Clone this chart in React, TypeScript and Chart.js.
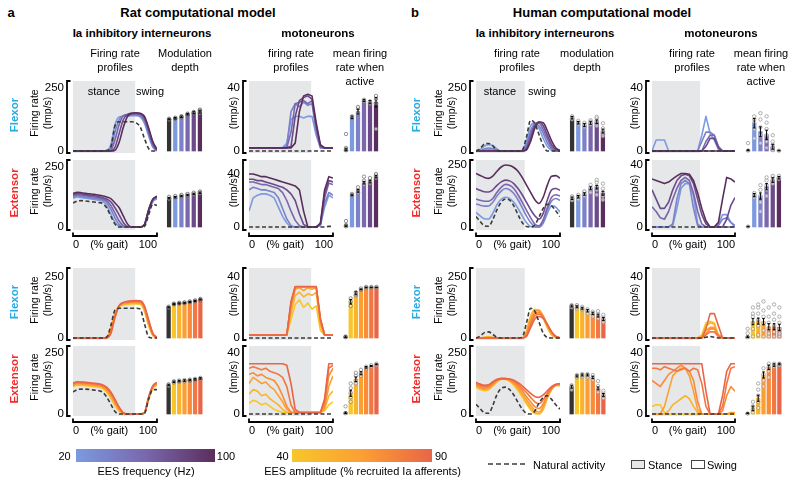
import React, { useEffect, useRef } from 'react';
import { Chart, registerables } from 'chart.js';

Chart.register(...registerables);

const FONT = "'Liberation Sans', Arial, Helvetica, sans-serif";
Chart.defaults.font.family = FONT;
Chart.defaults.font.size = 11;
Chart.defaults.color = '#000';

// ---------------- data ----------------
const GAIT_PCT = [0, 5, 10, 15, 20, 25, 30, 35, 40, 45, 50, 55, 60, 65, 70, 75, 80, 85, 90, 95, 100];
const X_TICKS = [0, 43, 100];
const X_TICK_LABELS = ['0', '(% gait)', '100'];
const FREQ_LEVELS = [20, 40, 60, 80, 100];
const AMP_LEVELS = [40, 50, 60, 70, 80, 90];
const FREQ_COLORS = ['#7b9ae0', '#7c81ca', '#7a67ad', '#6a4a8a', '#5a2e5c'];
const AMP_COLORS = ['#f7c62a', '#fcb32c', '#fc9f33', '#f98b3a', '#f27742', '#e96548'];
const NAT_COLOR = '#3a3a3a';
const NATURAL_BAR_COLOR = '#333333';
const STANCE_END_RAT = 74;
const STANCE_END_HUMAN = 58;
const ZEROS = [0, 0, 0, 0, 0, 0, 0, 0, 0, 0, 0, 0, 0, 0, 0, 0, 0, 0, 0, 0, 0];

// Rat, Ia inhibitory interneurons
const ratIaFlexNat = [0, 0, 0, 0, 0, 0, 0, 0, 2, 15, 100, 116, 116, 116, 116, 112, 95, 50, 10, 0, 0];
const ratIaFlexFreq = [
  [0, 0, 0, 0, 0, 0, 0, 0, 2, 25, 105, 135, 138, 138, 140, 140, 135, 110, 60, 15, 0],
  [0, 0, 0, 0, 0, 0, 0, 0, 1, 10, 75, 125, 140, 142, 143, 143, 140, 118, 70, 20, 2],
  [0, 0, 0, 0, 0, 0, 0, 0, 0, 3, 45, 105, 140, 145, 146, 147, 145, 125, 78, 25, 3],
  [0, 0, 0, 0, 0, 0, 0, 0, 0, 0, 15, 70, 125, 145, 150, 150, 148, 132, 85, 32, 5],
  [0, 0, 0, 0, 0, 0, 0, 0, 0, 0, 3, 35, 95, 138, 150, 152, 150, 138, 92, 38, 6],
];
const ratIaExtNat = [100, 108, 110, 108, 106, 104, 102, 98, 80, 45, 12, 0, 0, 0, 0, 0, 0, 2, 50, 95, 90];
const ratIaExtFreq = [
  [120, 125, 123, 120, 118, 115, 112, 108, 90, 55, 20, 3, 0, 0, 0, 0, 0, 8, 60, 105, 118],
  [125, 130, 128, 125, 122, 120, 117, 113, 102, 75, 38, 10, 0, 0, 0, 0, 0, 8, 65, 110, 122],
  [130, 135, 133, 130, 127, 125, 122, 118, 110, 90, 58, 25, 5, 0, 0, 0, 0, 9, 68, 113, 125],
  [135, 140, 138, 135, 132, 130, 127, 123, 117, 105, 80, 50, 18, 2, 0, 0, 0, 10, 70, 115, 127],
  [140, 145, 143, 140, 138, 136, 133, 130, 125, 118, 100, 80, 45, 12, 0, 0, 0, 10, 72, 116, 128],
];
const ratIaFlexAmpNat = [0, 0, 0, 0, 0, 0, 0, 0, 3, 50, 115, 122, 122, 122, 122, 122, 118, 60, 5, 0, 0];
const ratIaFlexAmp = [
  [0, 0, 0, 0, 0, 0, 0, 0, 3, 40, 100, 128, 135, 138, 140, 140, 138, 110, 50, 10, 0],
  [0, 0, 0, 0, 0, 0, 0, 0, 2, 35, 98, 130, 138, 141, 143, 143, 141, 115, 55, 12, 0],
  [0, 0, 0, 0, 0, 0, 0, 0, 2, 30, 95, 132, 141, 144, 146, 146, 144, 120, 60, 14, 1],
  [0, 0, 0, 0, 0, 0, 0, 0, 1, 26, 92, 133, 143, 146, 148, 148, 147, 124, 65, 16, 1],
  [0, 0, 0, 0, 0, 0, 0, 0, 1, 22, 88, 133, 145, 148, 150, 151, 150, 128, 70, 18, 1],
  [0, 0, 0, 0, 0, 0, 0, 0, 1, 18, 84, 133, 146, 150, 152, 153, 152, 132, 75, 20, 2],
];
const ratIaExtAmpNat = [90, 100, 102, 102, 100, 98, 96, 90, 70, 40, 10, 0, 0, 0, 0, 0, 0, 2, 60, 100, 100];
const ratIaExtAmp = [
  [112, 118, 117, 116, 114, 112, 110, 105, 90, 65, 35, 10, 0, 0, 0, 0, 0, 3, 60, 105, 118],
  [115, 121, 120, 119, 117, 115, 113, 108, 94, 70, 40, 14, 1, 0, 0, 0, 0, 4, 62, 108, 121],
  [118, 124, 123, 122, 120, 118, 116, 111, 98, 76, 46, 18, 2, 0, 0, 0, 0, 4, 64, 110, 124],
  [121, 127, 126, 125, 123, 121, 119, 114, 102, 82, 52, 22, 3, 0, 0, 0, 0, 5, 66, 112, 126],
  [124, 130, 129, 128, 126, 124, 122, 117, 106, 86, 56, 25, 4, 0, 0, 0, 0, 5, 68, 114, 128],
  [127, 132, 131, 130, 128, 126, 124, 120, 110, 90, 60, 28, 5, 0, 0, 0, 0, 5, 70, 115, 130],
];

// Rat, motoneurons
const ratMnFlexFreq = [
  [2, 2, 2, 2, 2, 2, 2, 2, 2, 5, 20, 22, 22, 21, 22, 22, 10, 2, 2, 2, 2],
  [2, 2, 2, 2, 2, 2, 2, 2, 2, 3, 25, 30, 28, 31, 29, 30, 12, 2, 2, 2, 2],
  [2, 2, 2, 2, 2, 2, 2, 2, 2, 2, 12, 30, 31, 32, 30, 32, 15, 3, 2, 2, 2],
  [2, 2, 2, 2, 2, 2, 2, 2, 2, 2, 3, 22, 32, 34, 35, 33, 16, 3, 2, 2, 2],
  [2, 2, 2, 2, 2, 2, 2, 2, 2, 2, 2, 5, 25, 35, 36, 35, 18, 4, 2, 2, 2],
];
const ratMnExtNat = [0, 0, 0, 0, 0, 0, 0, 0, 0, 0, 0, 0, 0, 0, 0, 0, 0, 0, 0, 0.5, 0.5];
const ratMnExtFreq = [
  [12, 22, 24, 25, 25, 24, 22, 15, 8, 3, 0, 0, 0, 0, 0, 0, 0, 1, 15, 24, 22],
  [28, 30, 29, 28, 28, 27, 26, 22, 14, 6, 1, 0, 0, 0, 0, 0, 0, 2, 18, 26, 24],
  [34, 34, 33, 32, 32, 31, 30, 29, 26, 20, 12, 5, 1, 0, 0, 0, 0, 2, 22, 33, 32],
  [36, 36, 35, 35, 34, 33, 32, 31, 30, 28, 25, 20, 10, 2, 0, 0, 0, 2, 25, 35, 34],
  [40, 40, 39, 38, 38, 37, 36, 35, 34, 33, 32, 31, 28, 12, 0, 0, 0, 3, 28, 38, 37],
];
const ratMnFlexAmp = [
  [2, 2, 2, 2, 2, 2, 2, 2, 2, 2, 12, 22, 25, 20, 23, 19, 21, 5, 2, 2, 2],
  [2, 2, 2, 2, 2, 2, 2, 2, 2, 2, 16, 28, 30, 27, 29, 28, 30, 8, 2, 2, 2],
  [2, 2, 2, 2, 2, 2, 2, 2, 2, 2, 20, 32, 33, 31, 33, 32, 33, 10, 2, 2, 2],
  [2, 2, 2, 2, 2, 2, 2, 2, 2, 2, 22, 33.5, 33.5, 33.5, 33.5, 33.5, 33.5, 12, 2, 2, 2],
  [2, 2, 2, 2, 2, 2, 2, 2, 2, 2, 23, 33.6, 33.6, 33.6, 33.6, 33.6, 33.6, 12, 2, 2, 2],
  [2, 2, 2, 2, 2, 2, 2, 2, 2, 2, 24, 33.8, 33.8, 33.8, 33.8, 33.8, 33.8, 13, 2, 2, 2],
];
const ratMnExtAmp = [
  [7, 9, 8, 6, 7, 5, 3, 2, 1, 1, 1, 1, 1, 1, 1, 1, 1, 1, 2, 6, 8],
  [13, 16, 15, 12, 13, 10, 8, 6, 3, 1, 1, 1, 1, 1, 1, 1, 1, 1, 3, 12, 15],
  [20, 24, 22, 20, 21, 18, 16, 12, 8, 3, 1, 1, 1, 1, 1, 1, 1, 1, 4, 18, 25],
  [26, 27, 25, 26, 24, 23, 22, 18, 12, 5, 1, 1, 1, 1, 1, 1, 1, 1, 6, 25, 30],
  [30, 31, 30, 29, 30, 28, 27, 26, 24, 18, 6, 1, 1, 1, 1, 1, 1, 1, 8, 30, 32],
  [33, 33, 33, 33, 33, 33, 33, 33, 33, 32, 20, 3, 1, 1, 1, 1, 1, 1, 10, 33, 33],
];

// Human, Ia inhibitory interneurons
const humIaFlexNat = [0, 10, 28, 30, 20, 3, 0, 0, 0, 0, 0, 3, 55, 122, 110, 65, 22, 0, 0, 0, 0];
const humIaFlexFreq = [
  [0, 5, 20, 25, 22, 8, 0, 0, 0, 0, 0, 2, 40, 100, 112, 90, 50, 18, 3, 0, 0],
  [0, 0, 8, 12, 10, 3, 0, 0, 0, 0, 0, 1, 25, 80, 108, 100, 70, 32, 8, 1, 0],
  [0, 0, 2, 4, 3, 1, 0, 0, 0, 0, 0, 0, 15, 65, 105, 110, 85, 48, 15, 3, 0],
  [0, 0, 0, 0, 0, 0, 0, 0, 0, 0, 0, 0, 8, 50, 100, 115, 100, 62, 25, 6, 1],
  [0, 0, 0, 0, 0, 0, 0, 0, 0, 0, 0, 0, 4, 38, 90, 115, 112, 80, 40, 12, 2],
];
const humIaExtNat = [42, 22, 5, 3, 30, 70, 100, 113, 108, 85, 50, 18, 2, 0, 8, 40, 75, 92, 85, 65, 42];
const humIaExtFreq = [
  [59, 45, 33, 32, 55, 90, 112, 120, 115, 100, 75, 45, 18, 2, 0, 0, 15, 55, 85, 80, 60],
  [93, 88, 84, 85, 100, 125, 145, 155, 150, 135, 110, 78, 45, 18, 2, 0, 20, 70, 105, 115, 107],
  [113, 108, 104, 104, 115, 140, 160, 172, 168, 155, 130, 100, 68, 38, 12, 5, 30, 80, 120, 130, 125],
  [155, 148, 142, 141, 150, 168, 182, 189, 186, 175, 155, 130, 100, 70, 45, 32, 55, 110, 150, 155, 148],
  [216, 208, 200, 196, 205, 225, 242, 250, 248, 240, 225, 200, 170, 140, 110, 95, 120, 170, 205, 207, 197],
];
const humIaFlexAmpNat = [0, 8, 22, 25, 15, 2, 0, 0, 0, 0, 0, 3, 60, 122, 110, 65, 20, 2, 0, 0, 0];
const humIaFlexAmp = [
  [0, 0, 3, 5, 3, 0, 0, 0, 0, 0, 0, 0, 30, 90, 118, 112, 80, 40, 12, 2, 0],
  [0, 0, 2, 4, 2, 0, 0, 0, 0, 0, 0, 0, 25, 85, 115, 115, 88, 48, 15, 3, 0],
  [0, 0, 1, 2, 1, 0, 0, 0, 0, 0, 0, 0, 20, 75, 108, 112, 90, 52, 18, 4, 0],
  [0, 0, 1, 1, 1, 0, 0, 0, 0, 0, 0, 0, 15, 65, 100, 105, 88, 55, 22, 5, 0],
  [0, 0, 0, 1, 0, 0, 0, 0, 0, 0, 0, 0, 10, 55, 90, 98, 85, 55, 24, 6, 0],
  [0, 0, 0, 0, 0, 0, 0, 0, 0, 0, 0, 0, 6, 42, 78, 88, 80, 55, 26, 8, 1],
];
const humIaExtAmpNat = [40, 22, 5, 3, 35, 80, 105, 110, 100, 78, 48, 20, 3, 0, 12, 45, 68, 75, 60, 38, 20];
const humIaExtAmp = [
  [110, 100, 96, 100, 115, 132, 143, 142, 134, 118, 96, 70, 42, 18, 2, 0, 18, 65, 100, 118, 115],
  [112, 104, 98, 102, 117, 134, 144, 143, 136, 122, 102, 78, 50, 25, 6, 2, 22, 68, 100, 117, 118],
  [116, 108, 102, 106, 120, 136, 145, 144, 138, 126, 108, 85, 60, 36, 15, 8, 30, 72, 103, 118, 120],
  [120, 112, 106, 110, 124, 138, 145, 145, 140, 130, 115, 95, 72, 50, 30, 22, 42, 78, 105, 118, 122],
  [125, 118, 112, 115, 128, 140, 145, 145, 142, 135, 122, 105, 88, 68, 50, 42, 58, 85, 108, 120, 124],
  [130, 123, 118, 120, 132, 142, 145, 145, 143, 138, 128, 115, 100, 85, 72, 68, 78, 95, 112, 122, 125],
];

// Human, motoneurons
const humMnFlexFreq = [
  [0, 7, 7, 7, 0, 0, 0, 0, 0, 0, 0, 0, 10, 22, 11, 7, 1, 0, 0, 0, 0],
  [0, 0, 0, 0, 0, 0, 0, 0, 0, 0, 0, 0, 6, 12, 12, 10, 2, 0, 0, 0, 0],
  [0, 0, 0, 0, 0, 0, 0, 0, 0, 0, 0, 0, 0, 6, 10, 10, 3, 0, 0, 0, 0],
  [0, 0, 0, 0, 0, 0, 0, 0, 0, 0, 0, 0, 0, 3, 8, 8, 2, 0, 0, 0, 0],
  [0, 0, 0, 0, 0, 0, 0, 0, 0, 0, 0, 0, 0, 0, 0, 0, 0, 0, 0, 0, 0],
];
const humMnExtFreq = [
  [0, 0, 0, 0, 0, 1, 12, 25, 28, 28, 20, 2, 0, 0, 0, 0, 2, 8, 8, 3, 0],
  [0, 0, 0, 0, 0, 2, 18, 28, 30, 28, 12, 1, 0, 0, 0, 0, 1, 5, 6, 3, 1],
  [13, 10, 6, 5, 10, 18, 25, 30, 32, 30, 22, 10, 2, 0, 0, 0, 0, 0, 0, 0, 0],
  [24, 18, 12, 12, 16, 24, 30, 33, 34, 33, 28, 18, 8, 2, 0, 0, 0, 0, 5, 14, 19],
  [31, 30, 29, 28, 29, 31, 33, 34.5, 34.5, 34, 30, 22, 12, 4, 0, 0, 3, 18, 32, 31, 29],
];
const humMnFlexAmpNat = [0, 0, 0, 0, 0, 0, 0, 0, 0, 0, 0, 0, 0, 0.5, 1, 0.5, 0, 0, 0, 0, 0];
const humMnFlexAmp = [
  [0, 0, 0, 0, 0, 0, 0, 0, 0, 0, 0, 0, 2, 10, 11, 10, 2, 0, 0, 0, 0],
  [0, 0, 0, 0, 0, 0, 0, 0, 0, 0, 0, 0, 1, 8, 10, 9, 1, 0, 0, 0, 0],
  [0, 0, 0, 0, 0, 0, 0, 0, 0, 0, 0, 0, 0, 5, 7, 7, 2, 0, 0, 0, 0],
  [0, 0, 0, 0, 0, 0, 0, 0, 0, 0, 0, 0, 0, 3, 6, 6, 2, 0, 0, 0, 0],
  [0, 0, 0, 0, 0, 0, 0, 0, 0, 0, 0, 0, 0, 2, 4, 4, 1, 0, 0, 0, 0],
  [0, 0, 0, 0, 0, 0, 0, 0, 0, 0, 0, 0, 0, 6, 16, 16, 8, 0, 0, 0, 0],
];
const humMnExtAmp = [
  [5, 6, 6, 1, 0, 0, 0, 0, 0, 0, 0, 0, 0, 0, 0, 0, 0, 0, 0, 0, 0],
  [0, 0, 0, 0, 2, 6, 8, 10, 12, 10, 5, 1, 0, 0, 0, 0, 0, 0, 0, 0, 0],
  [0, 0, 0, 5, 15, 25, 28, 30, 30, 25, 15, 3, 0, 0, 0, 0, 0, 0, 0, 1, 1],
  [22, 20, 18, 22, 26, 28, 30, 32, 30, 28, 22, 8, 0, 0, 0, 0, 0, 2, 12, 18, 15],
  [30, 30, 29, 31, 30, 29, 28, 29, 30, 28, 30, 29, 20, 5, 0, 0, 0, 5, 20, 30, 31],
  [33, 33, 33, 33, 33, 33, 33, 33, 33, 33, 33, 33, 33, 15, 0, 0, 0, 12, 28, 33, 33],
];

// Bar summaries (natural first, then EES levels)
const ratIaFlexFreqBar = [126, 130, 136, 146, 152, 156];
const ratIaFlexFreqErr = [2, 3, 3, 3, 4, 6];
const ratIaFlexFreqDots = [[124, 128], [128, 132], [134, 138], [144, 148], [150, 155], [160, 164, 150]];
const ratIaExtFreqBar = [120, 124, 129, 133, 138, 143];
const ratIaExtFreqErr = [3, 3, 3, 3, 3, 3];
const ratIaExtFreqDots = [[118, 123, 126], [122, 127, 129], [127, 132, 134], [131, 136, 138], [136, 141, 143], [141, 146, 148]];
const ratIaFlexAmpBar = [126, 139, 142, 144, 148, 152, 158];
const ratIaFlexAmpErr = [2, 2, 2, 2, 2, 2, 2];
const ratIaFlexAmpDots = [[124, 128], [138, 141], [141, 144], [143, 146], [147, 150], [151, 154], [156, 160]];
const ratIaExtAmpBar = [119, 132, 135, 137, 139, 142, 146];
const ratIaExtAmpErr = [3, 3, 3, 3, 3, 3, 3];
const ratIaExtAmpDots = [[116, 122], [129, 134], [132, 137], [134, 139], [136, 141], [139, 144], [143, 148]];

const ratMnFlexFreqBar = [1, 21.4, 25, 32, 31, 31];
const ratMnFlexFreqErr = [0.8, 0.8, 1.5, 0.6, 1, 3];
const ratMnFlexFreqDots = [[0.5, 2, 10.8], [21, 22], [24, 27, 28], [31.5, 32.5], [30, 31.5], [14, 30, 33, 35]];
const ratMnExtFreqBar = [1, 24.2, 27.2, 33.4, 34.2, 38];
const ratMnExtFreqDots = [[0.5, 1.5, 4.5], [24, 25], [26, 28, 30], [32, 35, 38], [33, 35, 37], [37, 39, 40]];
const ratMnExtFreqErr = [0.5, 0.6, 1, 1, 1, 1];
const ratMnFlexAmpBar = [0.8, 23.8, 29.3, 31.9, 33.2, 33.2, 33.2];
const ratMnFlexAmpErr = [0.5, 1.5, 1, 0.3, 0.2, 0.2, 0.2];
const ratMnFlexAmpDots = [[0.5, 1], [21, 24, 26], [28, 30], [31.5, 32.5], [33, 33.5], [33, 33.5], [33, 33.5]];
const ratMnExtAmpBar = [0.8, 13.6, 22.8, 26.7, 30.6, 31.5, 32.6];
const ratMnExtAmpErr = [0.5, 2, 1.5, 1, 0.5, 0.3, 0.3];
const ratMnExtAmpDots = [[0.5, 5], [8, 11, 14, 17, 20], [20, 22, 25, 27], [25, 27, 29], [30, 31], [31, 32], [32, 33]];

const humIaFlexFreqBar = [132, 112, 103, 112, 116, 79];
const humIaFlexFreqErr = [5, 5, 6, 6, 7, 8];
const humIaFlexFreqDots = [[126, 130, 135, 138], [105, 110, 115, 120], [95, 100, 108, 112], [105, 110, 118, 122], [100, 112, 120, 130, 135], [60, 70, 80, 90, 110]];
const humIaExtFreqBar = [116, 122, 133, 156, 160, 136];
const humIaExtFreqErr = [5, 5, 5, 6, 7, 8];
const humIaExtFreqDots = [[108, 114, 120, 124], [112, 120, 126, 130], [125, 132, 140, 144], [140, 150, 160, 170], [130, 150, 165, 180, 190], [110, 125, 140, 155, 175]];
const humIaFlexAmpBar = [131, 128, 122, 112, 101, 92, 78];
const humIaFlexAmpErr = [4, 4, 4, 5, 5, 6, 6];
const humIaFlexAmpDots = [[126, 132, 135], [120, 126, 132, 135], [115, 120, 128], [100, 110, 118], [88, 98, 108], [80, 90, 100, 110], [65, 75, 85, 95]];
const humIaExtAmpBar = [112, 156, 160, 160, 150, 105, 78];
const humIaExtAmpErr = [6, 4, 4, 4, 5, 6, 6];
const humIaExtAmpDots = [[100, 110, 118], [150, 155, 160], [152, 158, 164], [150, 158, 164], [140, 150, 160], [90, 100, 115, 135], [65, 75, 85, 95]];

const humMnFlexFreqBar = [0.5, 17.6, 12.3, 10.2, 2.7, 0.3];
const humMnFlexFreqErr = [0.3, 3, 3, 3, 1.5, 0.2];
const humMnFlexFreqDots = [[0.3, 5], [8, 14, 18, 20, 22], [5, 10, 15, 20, 24], [2, 6, 10, 14, 18, 22], [0.5, 2, 4, 6, 10], [0.2]];
const humMnExtFreqBar = [0.3, 20.6, 20, 26, 30.3, 31.8];
const humMnExtFreqErr = [0.2, 1, 2, 2, 1.5, 0.8];
const humMnExtFreqDots = [[0.3], [19, 20, 21, 22], [10, 16, 20, 24, 27], [20, 24, 27, 30, 32], [28, 30, 32, 33], [31, 32, 33]];
const humMnFlexAmpBar = [0.8, 10.7, 11.1, 10.7, 7.4, 7.4, 7];
const humMnFlexAmpErr = [0.5, 2, 2, 2, 2, 2, 2];
const humMnFlexAmpDots = [[0.5, 3, 6], [1, 6, 10, 14, 16, 20], [2, 8, 12, 16, 20, 22], [1, 5, 10, 14, 18, 24], [1, 3, 6, 10, 14, 20], [1, 4, 8, 12, 16, 22], [1, 3, 6, 10, 14, 20]];
const humMnExtAmpBar = [0.5, 3.7, 10.3, 25.6, 30.6, 32.1, 32.8];
const humMnExtAmpErr = [0.3, 1.5, 2, 2, 1.5, 0.8, 0.5];
const humMnExtAmpDots = [[0.3], [1, 3, 5, 8], [4, 8, 12, 16, 20], [18, 22, 26, 30], [24, 28, 31, 33], [31, 32, 33], [32, 33]];

// ---------------- layout ----------------
const COLS = [
  { l: 73, r: 157, bl: 166, br: 203 },
  { l: 249, r: 333, bl: 343, br: 379 },
  { l: 476, r: 560, bl: 569, br: 606 },
  { l: 652, r: 735, bl: 745, br: 782 },
];
const ROWS = [
  { t: 81, z: 151, b: 153 },
  { t: 160, z: 227, b: 230 },
  { t: 268, z: 338, b: 340 },
  { t: 346, z: 414, b: 416 },
];

const PANELS = [
  { col: 0, row: 0, tick: 250, tickY: 88, nat: ratIaFlexNat, curves: ratIaFlexFreq, colors: FREQ_COLORS, stance: STANCE_END_RAT, smooth: true, bars: ratIaFlexFreqBar, errs: ratIaFlexFreqErr, dots: ratIaFlexFreqDots, dotColor: '#555' },
  { col: 0, row: 1, tick: 250, tickY: 167, nat: ratIaExtNat, curves: ratIaExtFreq, colors: FREQ_COLORS, stance: STANCE_END_RAT, smooth: true, bars: ratIaExtFreqBar, errs: ratIaExtFreqErr, dots: ratIaExtFreqDots, dotColor: '#777' },
  { col: 0, row: 2, tick: 250, tickY: 277, nat: ratIaFlexAmpNat, curves: ratIaFlexAmp, colors: AMP_COLORS, stance: STANCE_END_RAT, smooth: true, bars: ratIaFlexAmpBar, errs: ratIaFlexAmpErr, dots: ratIaFlexAmpDots, dotColor: '#555' },
  { col: 0, row: 3, tick: 250, tickY: 353, nat: ratIaExtAmpNat, curves: ratIaExtAmp, colors: AMP_COLORS, stance: STANCE_END_RAT, smooth: true, bars: ratIaExtAmpBar, errs: ratIaExtAmpErr, dots: ratIaExtAmpDots, dotColor: '#777' },
  { col: 1, row: 0, tick: 40, tickY: 88, nat: ZEROS, curves: ratMnFlexFreq, colors: FREQ_COLORS, stance: STANCE_END_RAT, smooth: false, bars: ratMnFlexFreqBar, errs: ratMnFlexFreqErr, dots: ratMnFlexFreqDots, dotColor: '#777' },
  { col: 1, row: 1, tick: 40, tickY: 174, nat: ratMnExtNat, curves: ratMnExtFreq, colors: FREQ_COLORS, stance: STANCE_END_RAT, smooth: false, bars: ratMnExtFreqBar, errs: ratMnExtFreqErr, dots: ratMnExtFreqDots, dotColor: '#777' },
  { col: 1, row: 2, tick: 40, tickY: 277, nat: ZEROS, curves: ratMnFlexAmp, colors: AMP_COLORS, stance: STANCE_END_RAT, smooth: false, bars: ratMnFlexAmpBar, errs: ratMnFlexAmpErr, dots: ratMnFlexAmpDots, dotColor: '#777' },
  { col: 1, row: 3, tick: 40, tickY: 353, nat: ZEROS, curves: ratMnExtAmp, colors: AMP_COLORS, stance: STANCE_END_RAT, smooth: false, bars: ratMnExtAmpBar, errs: ratMnExtAmpErr, dots: ratMnExtAmpDots, dotColor: '#888' },
  { col: 2, row: 0, tick: 250, tickY: 88, nat: humIaFlexNat, curves: humIaFlexFreq, colors: FREQ_COLORS, stance: STANCE_END_HUMAN, smooth: true, bars: humIaFlexFreqBar, errs: humIaFlexFreqErr, dots: humIaFlexFreqDots, dotColor: '#999' },
  { col: 2, row: 1, tick: 250, tickY: 165, nat: humIaExtNat, curves: humIaExtFreq, colors: FREQ_COLORS, stance: STANCE_END_HUMAN, smooth: true, bars: humIaExtFreqBar, errs: humIaExtFreqErr, dots: humIaExtFreqDots, dotColor: '#999' },
  { col: 2, row: 2, tick: 250, tickY: 277, nat: humIaFlexAmpNat, curves: humIaFlexAmp, colors: AMP_COLORS, stance: STANCE_END_HUMAN, smooth: true, bars: humIaFlexAmpBar, errs: humIaFlexAmpErr, dots: humIaFlexAmpDots, dotColor: '#999' },
  { col: 2, row: 3, tick: 250, tickY: 353, nat: humIaExtAmpNat, curves: humIaExtAmp, colors: AMP_COLORS, stance: STANCE_END_HUMAN, smooth: true, bars: humIaExtAmpBar, errs: humIaExtAmpErr, dots: humIaExtAmpDots, dotColor: '#999' },
  { col: 3, row: 0, tick: 40, tickY: 88, nat: ZEROS, curves: humMnFlexFreq, colors: FREQ_COLORS, stance: STANCE_END_HUMAN, smooth: false, bars: humMnFlexFreqBar, errs: humMnFlexFreqErr, dots: humMnFlexFreqDots, dotColor: '#999' },
  { col: 3, row: 1, tick: 40, tickY: 165, nat: ZEROS, curves: humMnExtFreq, colors: FREQ_COLORS, stance: STANCE_END_HUMAN, smooth: false, bars: humMnExtFreqBar, errs: humMnExtFreqErr, dots: humMnExtFreqDots, dotColor: '#999' },
  { col: 3, row: 2, tick: 40, tickY: 277, nat: humMnFlexAmpNat, curves: humMnFlexAmp, colors: AMP_COLORS, stance: STANCE_END_HUMAN, smooth: false, bars: humMnFlexAmpBar, errs: humMnFlexAmpErr, dots: humMnFlexAmpDots, dotColor: '#999' },
  { col: 3, row: 3, tick: 40, tickY: 353, nat: ZEROS, curves: humMnExtAmp, colors: AMP_COLORS, stance: STANCE_END_HUMAN, smooth: false, bars: humMnExtAmpBar, errs: humMnExtAmpErr, dots: humMnExtAmpDots, dotColor: '#999' },
];

// ---------------- helpers ----------------
function yRange(p) {
  const R = ROWS[p.row];
  const ppu = (R.z - p.tickY) / p.tick;
  return { min: -(R.b - R.z) / ppu, max: p.tick + (p.tickY - R.t) / ppu };
}

const PAD_T = 20;
const PAD_B = 20;
const PAD_R = 12;
const Y_W = 40;
const X_H = 30;

function stancePlugin(end) {
  return {
    id: 'stance',
    beforeDatasetsDraw(chart) {
      const { ctx, chartArea: a, scales } = chart;
      const x0 = scales.x.getPixelForValue(0);
      const x1 = scales.x.getPixelForValue(end);
      ctx.save();
      ctx.fillStyle = '#e6e7e8';
      ctx.fillRect(x0, a.top, x1 - x0, a.bottom - a.top);
      ctx.restore();
    },
  };
}

function bracketPlugin(showX) {
  return {
    id: 'brackets',
    afterDraw(chart) {
      const { ctx, chartArea: a, scales } = chart;
      ctx.save();
      ctx.strokeStyle = '#000';
      ctx.lineWidth = 1.8;
      const bx = a.left - 6;
      ctx.beginPath();
      ctx.moveTo(bx + 3.5, a.top);
      ctx.lineTo(bx, a.top);
      ctx.lineTo(bx, a.bottom);
      ctx.lineTo(bx + 3.5, a.bottom);
      ctx.stroke();
      if (showX) {
        const by = a.bottom + 6;
        const x0 = scales.x.getPixelForValue(0);
        const x1 = scales.x.getPixelForValue(100);
        ctx.beginPath();
        ctx.moveTo(x0, by - 3.5);
        ctx.lineTo(x0, by);
        ctx.lineTo(x1, by);
        ctx.lineTo(x1, by - 3.5);
        ctx.stroke();
      }
      ctx.restore();
    },
  };
}

function errPlugin(vals, errs) {
  return {
    id: 'errbars',
    afterDatasetsDraw(chart) {
      const { ctx, scales } = chart;
      ctx.save();
      ctx.strokeStyle = '#000';
      ctx.lineWidth = 1;
      vals.forEach((v, i) => {
        const e = errs[i];
        const px = scales.x.getPixelForValue(i);
        const y1 = scales.y.getPixelForValue(Math.max(v - e, 0));
        const y2 = scales.y.getPixelForValue(v + e);
        ctx.beginPath();
        ctx.moveTo(px, y1);
        ctx.lineTo(px, y2);
        ctx.moveTo(px - 1.3, y2);
        ctx.lineTo(px + 1.3, y2);
        ctx.moveTo(px - 1.3, y1);
        ctx.lineTo(px + 1.3, y1);
        ctx.stroke();
      });
      ctx.restore();
    },
  };
}

function toPts(arr) {
  return GAIT_PCT.map((x, i) => ({ x, y: arr[i] }));
}

function lineBox(p) {
  const R = ROWS[p.row], C = COLS[p.col];
  const showX = p.row === 1 || p.row === 3;
  return {
    x: C.l - Y_W,
    y: R.t - PAD_T,
    w: C.r - C.l + Y_W + PAD_R,
    h: R.b - R.t + PAD_T + (showX ? X_H : PAD_B),
  };
}

function makeLineConfig(p) {
  const showX = p.row === 1 || p.row === 3;
  const { min, max } = yRange(p);
  const common = {
    pointRadius: 0,
    fill: false,
    borderWidth: 1.6,
    tension: p.smooth ? 0.4 : 0,
    cubicInterpolationMode: p.smooth ? 'monotone' : 'default',
    borderJoinStyle: 'round',
  };
  const datasets = [
    { ...common, data: toPts(p.nat), borderColor: NAT_COLOR, borderDash: [4, 2.5], borderWidth: 1.6 },
  ];
  for (let i = p.curves.length - 1; i >= 0; i--) {
    datasets.push({ ...common, data: toPts(p.curves[i]), borderColor: p.colors[i] });
  }
  return {
    type: 'line',
    data: { datasets },
    options: {
      animation: false,
      responsive: false,
      events: [],
      layout: { padding: { left: 0, top: PAD_T, right: PAD_R, bottom: showX ? 0 : PAD_B } },
      plugins: { legend: { display: false }, tooltip: { enabled: false } },
      scales: {
        x: {
          type: 'linear',
          min: 0,
          max: 100,
          display: showX,
          grid: { display: false, drawTicks: false },
          border: { display: false },
          afterBuildTicks: (s) => { s.ticks = X_TICKS.map((v) => ({ value: v })); },
          afterFit: (s) => { if (showX) s.height = X_H; },
          ticks: {
            align: 'inner',
            padding: 8.5,
            maxRotation: 0,
            autoSkip: false,
            font: { size: 11, family: FONT },
            color: '#000',
            callback: (v) => X_TICK_LABELS[X_TICKS.indexOf(v)],
          },
        },
        y: {
          type: 'linear',
          min,
          max,
          grid: { display: false, drawTicks: false },
          border: { display: false },
          afterBuildTicks: (s) => { s.ticks = [{ value: 0 }, { value: p.tick }]; },
          afterFit: (s) => { s.width = Y_W; },
          ticks: { padding: 9, font: { size: 11.5, family: FONT }, color: '#000', callback: (v) => String(v) },
        },
      },
    },
    plugins: [stancePlugin(p.stance), bracketPlugin(showX)],
  };
}

function barBox(p) {
  const R = ROWS[p.row], C = COLS[p.col];
  return { x: C.bl - 6, y: R.t - PAD_T, w: C.br - C.bl + 12, h: R.b - R.t + PAD_T + PAD_B };
}

function makeBarConfig(p) {
  const { min, max } = yRange(p);
  const n = p.bars.length;
  const colors = [NATURAL_BAR_COLOR, ...p.colors].slice(0, n);
  const dotData = [];
  p.dots.forEach((arr, i) => arr.forEach((v) => dotData.push({ x: i, y: v })));
  return {
    type: 'bar',
    data: {
      datasets: [
        {
          type: 'line',
          data: dotData,
          showLine: false,
          pointRadius: 1.7,
          pointBorderWidth: 0.8,
          pointBorderColor: p.dotColor,
          pointBackgroundColor: 'rgba(255,255,255,0.6)',
          order: 0,
        },
        {
          type: 'bar',
          data: p.bars.map((v, i) => ({ x: i, y: v })),
          backgroundColor: colors,
          borderWidth: 0,
          barThickness: 3.6,
          order: 1,
        },
      ],
    },
    options: {
      animation: false,
      responsive: false,
      events: [],
      layout: { padding: { left: 6, right: 6, top: PAD_T, bottom: PAD_B } },
      plugins: { legend: { display: false }, tooltip: { enabled: false } },
      scales: {
        x: { type: 'linear', min: -0.5, max: n - 0.5, display: false, offset: false, grid: { offset: false } },
        y: { type: 'linear', min, max, display: false },
      },
    },
    plugins: [errPlugin(p.bars, p.errs)],
  };
}

function ChartCanvas({ box, make }) {
  const ref = useRef(null);
  useEffect(() => {
    const chart = new Chart(ref.current, make());
    return () => chart.destroy();
  }, []);
  return (
    <canvas
      ref={ref}
      width={box.w}
      height={box.h}
      style={{ position: 'absolute', left: box.x, top: box.y, width: box.w, height: box.h }}
    />
  );
}

function Txt({ x, y, s = 11, b = false, c = '#000', rot = false, left = false, lh = 14, children }) {
  return (
    <div
      style={{
        position: 'absolute',
        left: x,
        top: y,
        transform: `translate(${left ? '0' : '-50%'}, -50%)${rot ? ' rotate(-90deg)' : ''}`,
        fontSize: s,
        fontWeight: b ? 700 : 400,
        color: c,
        whiteSpace: 'nowrap',
        lineHeight: `${lh}px`,
        fontFamily: FONT,
        textAlign: 'center',
      }}
    >
      {children}
    </div>
  );
}

const FLEX_COLOR = '#29aae1';
const EXT_COLOR = '#f42a2a';

export default function App() {
  useEffect(() => {
    document.body.style.margin = '0';
  }, []);
  const rowMid = ROWS.map((r) => (r.t + r.b) / 2);
  return (
    <div style={{ position: 'absolute', left: 0, top: 0, width: 800, height: 486, background: '#fff', overflow: 'hidden', fontFamily: FONT }}>
      {PANELS.map((p, i) => (
        <React.Fragment key={i}>
          <ChartCanvas box={lineBox(p)} make={() => makeLineConfig(p)} />
          <ChartCanvas box={barBox(p)} make={() => makeBarConfig(p)} />
        </React.Fragment>
      ))}

      {/* titles */}
      <Txt x={11} y={13} s={13} b>a</Txt>
      <Txt x={198} y={13} s={13} b>Rat computational model</Txt>
      <Txt x={415} y={13} s={13} b>b</Txt>
      <Txt x={602} y={13} s={13} b>Human computational model</Txt>
      <Txt x={142} y={33} s={11.5} b>Ia inhibitory interneurons</Txt>
      <Txt x={318} y={33} s={11.5} b>motoneurons</Txt>
      <Txt x={545} y={33} s={11.5} b>Ia inhibitory interneurons</Txt>
      <Txt x={721} y={33} s={11.5} b>motoneurons</Txt>

      <Txt x={115} y={60}>Firing rate<br />profiles</Txt>
      <Txt x={185} y={60}>Modulation<br />depth</Txt>
      <Txt x={291} y={60}>firing rate<br />profiles</Txt>
      <Txt x={360} y={67}>mean firing<br />rate when<br />active</Txt>
      <Txt x={517} y={60}>firing rate<br />profiles</Txt>
      <Txt x={587} y={60}>modulation<br />depth</Txt>
      <Txt x={692} y={60}>firing rate<br />profiles</Txt>
      <Txt x={761} y={67}>mean firing<br />rate when<br />active</Txt>

      <Txt x={104} y={91}>stance</Txt>
      <Txt x={150} y={91}>swing</Txt>
      <Txt x={500} y={91}>stance</Txt>
      <Txt x={542} y={91}>swing</Txt>

      {/* row labels */}
      {[0, 1, 2, 3].map((r) => (
        <React.Fragment key={'rl' + r}>
          <Txt x={13.5} y={rowMid[r] - 2} s={11.5} b c={r % 2 === 0 ? FLEX_COLOR : EXT_COLOR} rot>
            {r % 2 === 0 ? 'Flexor' : 'Extensor'}
          </Txt>
          <Txt x={415.5} y={rowMid[r] - 2} s={11.5} b c={r % 2 === 0 ? FLEX_COLOR : EXT_COLOR} rot>
            {r % 2 === 0 ? 'Flexor' : 'Extensor'}
          </Txt>
          <Txt x={34} y={rowMid[r] - 4} s={10.5} rot>Firing rate</Txt>
          <Txt x={47} y={rowMid[r] - 4} s={10.5} rot>(Imp/s)</Txt>
          <Txt x={232.5} y={rowMid[r] - 4} s={10.5} rot>(Imp/s)</Txt>
          <Txt x={437.5} y={rowMid[r] - 4} s={10.5} rot>Firing rate</Txt>
          <Txt x={451} y={rowMid[r] - 4} s={10.5} rot>(Imp/s)</Txt>
          <Txt x={634} y={rowMid[r] - 4} s={10.5} rot>(Imp/s)</Txt>
        </React.Fragment>
      ))}

      {/* legends */}
      <div style={{ position: 'absolute', left: 76, top: 449, width: 139, height: 13, background: `linear-gradient(to right, ${FREQ_COLORS[0]}, ${FREQ_COLORS[2]}, ${FREQ_COLORS[4]})` }} />
      <Txt x={64.5} y={456}>{String(FREQ_LEVELS[0])}</Txt>
      <Txt x={226} y={456}>{String(FREQ_LEVELS[FREQ_LEVELS.length - 1])}</Txt>
      <Txt x={146} y={471}>EES frequency (Hz)</Txt>

      <div style={{ position: 'absolute', left: 292, top: 449, width: 140, height: 13, background: `linear-gradient(to right, ${AMP_COLORS[0]}, ${AMP_COLORS[2]}, ${AMP_COLORS[5]})` }} />
      <Txt x={282.5} y={456}>{String(AMP_LEVELS[0])}</Txt>
      <Txt x={441} y={456}>{String(AMP_LEVELS[AMP_LEVELS.length - 1])}</Txt>
      <Txt x={362.5} y={471}>EES amplitude (% recruited Ia afferents)</Txt>

      <svg style={{ position: 'absolute', left: 486, top: 459, width: 42, height: 10 }} width={42} height={10}>
        <line x1={2} y1={5} x2={40} y2={5} stroke={NAT_COLOR} strokeWidth={1.6} strokeDasharray="5,3" />
      </svg>
      <Txt x={533} y={465} left>Natural activity</Txt>
      <div style={{ position: 'absolute', left: 631, top: 460, width: 12, height: 7, background: '#e6e7e8', border: '1px solid #444' }} />
      <Txt x={648} y={464.5} left>Stance</Txt>
      <div style={{ position: 'absolute', left: 691, top: 460, width: 12, height: 7, background: '#fff', border: '1px solid #444' }} />
      <Txt x={707} y={464.5} left>Swing</Txt>
    </div>
  );
}
